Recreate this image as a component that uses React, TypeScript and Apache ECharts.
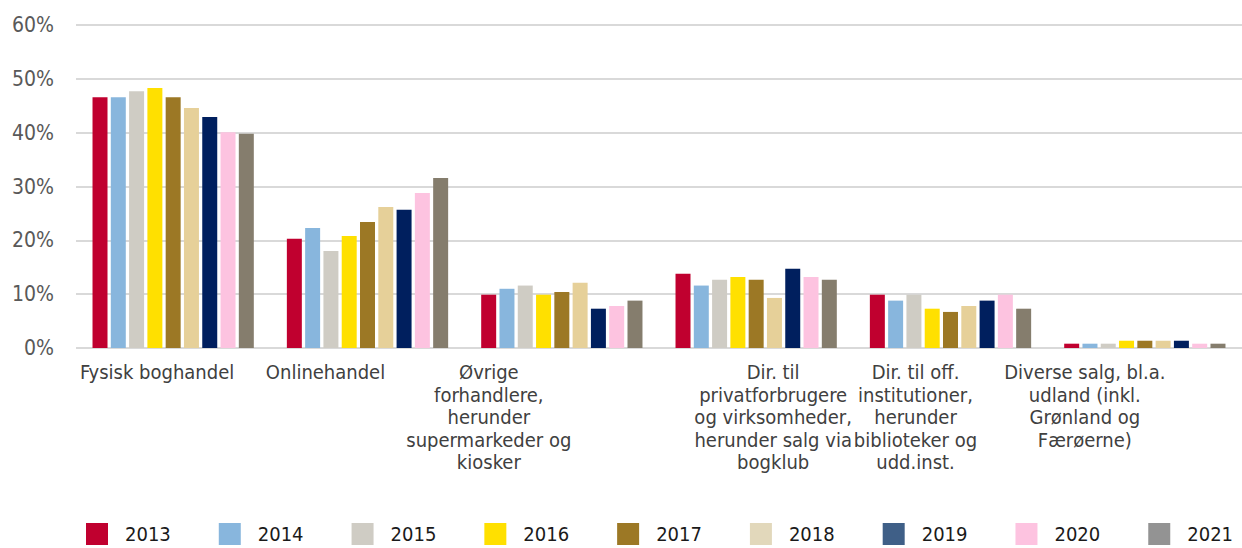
import React, { useEffect, useRef } from "react";
import * as echarts from "echarts";

const categories = [
  "Fysisk boghandel",
  "Onlinehandel",
  "Øvrige\nforhandlere,\nherunder\nsupermarkeder og\nkiosker",
  "Dir. til\nprivatforbrugere\nog virksomheder,\nherunder salg via\nbogklub",
  "Dir. til off.\ninstitutioner,\nherunder\nbiblioteker og\nudd.inst.",
  "Diverse salg, bl.a.\nudland (inkl.\nGrønland og\nFærøerne)",
];

const years = ["2013", "2014", "2015", "2016", "2017", "2018", "2019", "2020", "2021"];

const v2013 = [46.6, 20.3, 9.9, 13.8, 9.9, 0.8];
const v2014 = [46.6, 22.3, 11.0, 11.6, 8.8, 0.8];
const v2015 = [47.7, 18.0, 11.6, 12.7, 9.9, 0.8];
const v2016 = [48.3, 20.8, 9.9, 13.2, 7.3, 1.35];
const v2017 = [46.6, 23.4, 10.4, 12.7, 6.7, 1.35];
const v2018 = [44.6, 26.2, 12.1, 9.3, 7.8, 1.35];
const v2019 = [42.9, 25.7, 7.3, 14.7, 8.8, 1.35];
const v2020 = [40.1, 28.8, 7.8, 13.2, 9.9, 0.8];
const v2021 = [39.8, 31.6, 8.8, 12.7, 7.3, 0.8];

const seriesValues = [v2013, v2014, v2015, v2016, v2017, v2018, v2019, v2020, v2021];

const barColors = ["#C0002F", "#88B6DD", "#CFCCC4", "#FFE000", "#9C7825", "#E6D099", "#001F5E", "#FDC3E0", "#857D6D"];
const legendColors = ["#C0002F", "#88B6DD", "#CFCCC4", "#FFE000", "#9C7825", "#E2D8BB", "#3F5F87", "#FDC3E0", "#939393"];

// horizontal shift of each category label (px, negative = left)
const labelShift = [-16, -42, -73, 17, -35, -60];

const FONT = "'DejaVu Sans Condensed', 'DejaVu Sans', sans-serif";

export default function App() {
  const ref = useRef<HTMLDivElement>(null);
  useEffect(() => {
    document.body.style.margin = "0";
    const chart = echarts.init(ref.current!, null, { renderer: "svg" });
    chart.setOption({
      animation: false,
      backgroundColor: "#ffffff",
      textStyle: { fontFamily: FONT },
      grid: { left: 76, right: 0, top: 25, bottom: 200, containLabel: false, outerBoundsMode: "none" },
      legend: {
        left: 86,
        top: 523,
        width: 1200,
        padding: 0,
        itemWidth: 22,
        itemHeight: 22,
        itemGap: 48,
        icon: "rect",
        textStyle: { fontSize: 20, color: "#1a1a1a", fontFamily: FONT, padding: [0, 0, 0, 12], width: 43, overflow: "none" },
        data: years.map((y, i) => ({ name: y, itemStyle: { color: legendColors[i] } })),
      },
      xAxis: {
        type: "category",
        data: categories.map((c, i) => {
          const s = labelShift[i];
          const pad = s < 0 ? [0, -2 * s, 0, 0] : [0, 0, 0, 2 * s];
          return { value: c, textStyle: { padding: pad } };
        }),
        axisLine: { show: false },
        axisTick: { show: false },
        axisLabel: {
          interval: 0,
          margin: 13,
          fontSize: 20,
          lineHeight: 22.5,
          color: "#404040",
          fontFamily: FONT,
          align: "center",
        },
      },
      yAxis: {
        type: "value",
        min: 0,
        max: 60,
        interval: 10,
        axisLabel: {
          formatter: "{value}%",
          fontSize: 21,
          color: "#595959",
          margin: 22,
          fontFamily: FONT,
        },
        axisLine: { show: false },
        axisTick: { show: false },
        splitLine: { lineStyle: { color: "#D9D9D9", width: 2 } },
      },
      series: years.map((y, i) => ({
        name: y,
        type: "bar",
        data: seriesValues[i],
        barGap: "22%",
        barCategoryGap: "17%",
        itemStyle: { color: barColors[i] },
      })),
    });
    return () => chart.dispose();
  }, []);
  return <div ref={ref} style={{ width: 1242, height: 548 }} />;
}
